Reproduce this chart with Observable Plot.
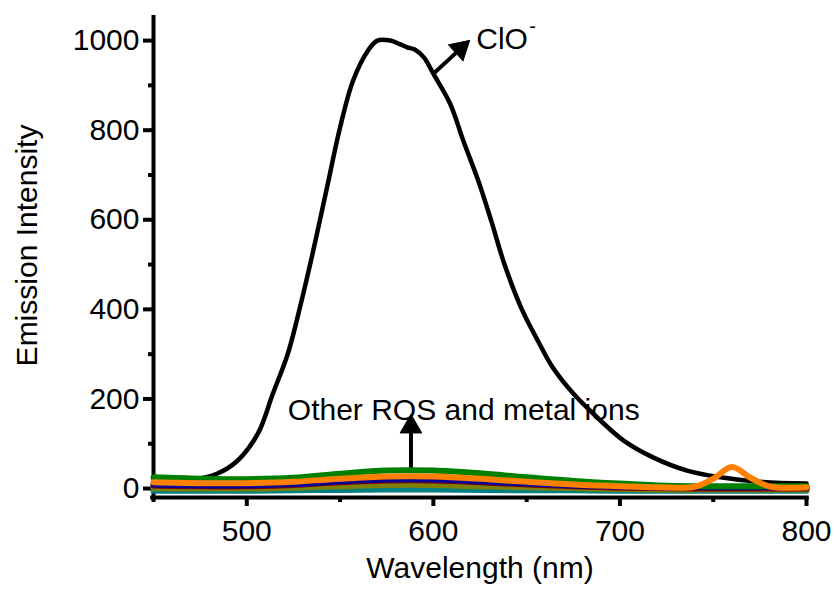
<!DOCTYPE html>
<html>
<head>
<meta charset="utf-8">
<script src="https://cdn.jsdelivr.net/npm/d3@7"></script>
<script src="https://cdn.jsdelivr.net/npm/@observablehq/plot@0.6"></script>
<style>
  html, body { margin: 0; padding: 0; background: #fff; }
  #chart svg { display: block; }
</style>
</head>
<body>
<div id="chart"></div>
<script>
// ClO- response (black curve)
const cloWavelength = [450,470,484,495,506,514,522,529,536,543,550,557,565,570,577,582,586,590,595,600,609,616,624,631,638,647,656,664,675,688,702,718,736,754,772,800];
const cloIntensity  = [22,20,33,62,123,212,301,413,538,672,806,911,978,1000,1000,992,985,980,962,926,859,777,688,598,502,404,330,270,212,158,107,69,40,25,16,11];

// Other ROS and metal ions (coloured curves)
const ionWavelength = [450,475,500,525,550,575,600,625,650,675,700,720,740,750,760,770,780,800];
const ionTeal   = [-5,-5,-5,-4,-3,-2,-2,-3,-4,-4,-5,-5,-5,-5,-5,-5,-5,-5];
const ionOlive  = [1,0,0,2,5,8,8,5,3,1,-1,-2,-2,-2,-2,-2,-2,-2];
const ionMaroon = [7,5,5,8,14,18,18,14,9,5,2,1,0,0,0,0,0,0];
const ionNavy   = [9,7,7,10,16,20,20,16,11,7,4,3,3,3,3,3,3,3];
const ionGreen  = [25,22,21,24,33,40,40,34,25,17,11,7,5,5,5,5,5,5];
const ionOrange = [14,12,12,15,22,27,27,22,15,9,5,3,4,22,48,24,5,3];

const ionSeries = [
  {name: "teal",   values: ionTeal,   color: "#008080"},
  {name: "olive",  values: ionOlive,  color: "#808000"},
  {name: "maroon", values: ionMaroon, color: "#800000"},
  {name: "navy",   values: ionNavy,   color: "#000099"},
  {name: "green",  values: ionGreen,  color: "#008000"},
  {name: "orange", values: ionOrange, color: "#ff8000"}
];

// Axis ticks
const xMajorTicks = [500, 600, 700, 800];
const xMinorTicks = [450, 550, 650, 750];
const yMajorTicks = [0, 200, 400, 600, 800, 1000];
const yMinorTicks = [100, 300, 500, 700, 900];
const xDomain = [450, 800];
const yDomain = [-20, 1056];

// Annotations
const cloArrow = [{x1: 600, y1: 926, x2: 612, y2: 972}];
const cloArrowHead = [{x: 614.5, y: 982, angle: 48}];
const cloLabel = [{x: 623, y: 1003, text: "ClO"}];
const ionArrow = [{x1: 588, y1: 47, x2: 588, y2: 135}];
const ionArrowHead = [{x: 588, y: 138, angle: 0}];
const ionLabel = [{x: 522, y: 174, text: "Other ROS and metal ions"}];

const cloData = cloWavelength.map((w, i) => ({w, v: cloIntensity[i]}));
const ionData = ionSeries.flatMap(s => ionWavelength.map((w, i) => ({w, v: s.values[i], name: s.name, color: s.color})));

const font = "Liberation Sans, Arial, Helvetica, sans-serif";

const chart = Plot.plot({
  width: 834,
  height: 594,
  marginTop: 15,
  marginRight: 28,
  marginBottom: 97,
  marginLeft: 153,
  style: {fontFamily: font, background: "#fff", color: "#000"},
  x: {domain: xDomain},
  y: {domain: yDomain},
  marks: [
    // axis lines
    Plot.ruleX([xDomain[0]], {y1: yDomain[0] - 7, y2: yDomain[1], stroke: "#000", strokeWidth: 4}),
    Plot.ruleY([yDomain[0]], {x1: xDomain[0] - 1.5, x2: xDomain[1] + 1.5, stroke: "#000", strokeWidth: 4}),
    Plot.axisX({ticks: xMajorTicks, tickSize: 9, tickPadding: 13, fontSize: 30, strokeWidth: 4, label: null, tickFormat: d => String(d)}),
    Plot.axisX({ticks: xMinorTicks, tickSize: 5, strokeWidth: 4, text: null, label: null}),
    Plot.axisY({ticks: yMajorTicks, tickSize: 10, tickPadding: 4, fontSize: 30, strokeWidth: 4, label: null, tickFormat: d => String(d)}),
    Plot.axisY({ticks: yMinorTicks, tickSize: 5, strokeWidth: 4, text: null, label: null}),
    // axis titles
    Plot.text(["Wavelength (nm)"], {frameAnchor: "bottom", textAnchor: "middle", dy: 80, fontSize: 30, fill: "#000"}),
    Plot.text(["Emission Intensity"], {frameAnchor: "left", textAnchor: "middle", dx: -126, dy: -11, rotate: -90, fontSize: 30, fill: "#000"}),
    // annotations
    Plot.text(ionLabel, {x: "x", y: "y", text: "text", textAnchor: "start", fontSize: 30, fill: "#000"}),
    // data
    Plot.line(cloData, {x: "w", y: "v", stroke: "#000", strokeWidth: 4.5, curve: "catmull-rom"}),
    Plot.line(ionData, {x: "w", y: "v", z: "name", stroke: "color", strokeWidth: 6, curve: "catmull-rom"}),
    Plot.link(cloArrow, {x1: "x1", y1: "y1", x2: "x2", y2: "y2", stroke: "#000", strokeWidth: 4}),
    Plot.dot(cloArrowHead, {x: "x", y: "y", symbol: "triangle", rotate: "angle", r: 8, fill: "#000", stroke: "#000", strokeWidth: 1}),
    Plot.link(ionArrow, {x1: "x1", y1: "y1", x2: "x2", y2: "y2", stroke: "#000", strokeWidth: 4}),
    Plot.dot(ionArrowHead, {x: "x", y: "y", symbol: "triangle", rotate: "angle", r: 8, fill: "#000", stroke: "#000", strokeWidth: 1}),
    Plot.text(cloLabel, {x: "x", y: "y", text: "text", textAnchor: "start", fontSize: 30, fill: "#000"}),
    Plot.text(cloLabel, {x: "x", y: "y", text: () => "-", textAnchor: "start", dx: 53, dy: -13, fontSize: 20, fill: "#000"})
  ]
});
document.getElementById("chart").appendChild(chart);
</script>
</body>
</html>
